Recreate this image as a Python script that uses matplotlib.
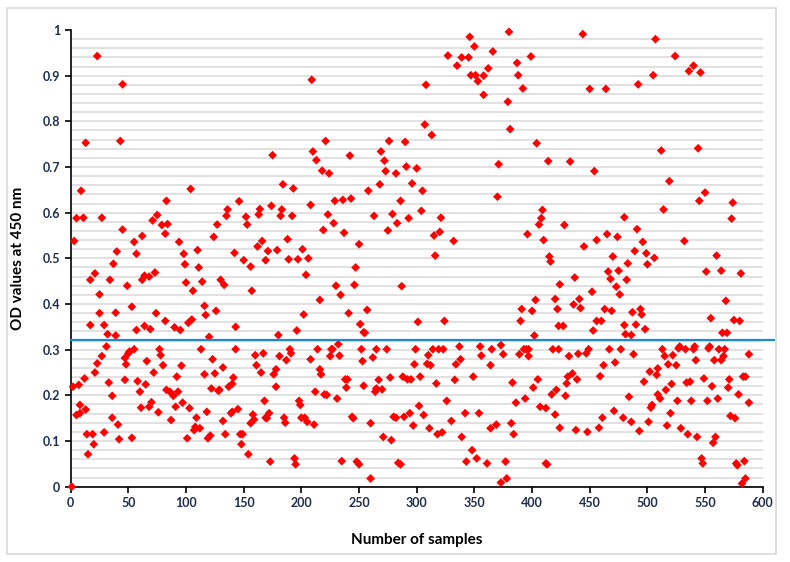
import numpy as np
import matplotlib
matplotlib.use("Agg")
import matplotlib.pyplot as plt
from matplotlib.ticker import MultipleLocator
from matplotlib.patches import Rectangle

# sample number / OD value
sample_no = [
    1, 3, 2, 5, 5, 7, 8, 9, 8, 11, 12, 13, 13, 14, 15, 17, 17, 19, 20, 21, 21, 23, 23, 25, 25, 27, 27, 29, 29, 31,
    32, 33, 34, 36, 36, 37, 39, 39, 40, 41, 42, 43, 45, 45, 47, 47, 48, 49, 50, 51, 53, 53, 55, 55, 57, 57, 58, 60,
    61, 62, 62, 64, 64, 66, 65, 68, 68, 69, 70, 72, 71, 73, 74, 75, 76, 77, 78, 79, 80, 82, 82, 83, 83, 84,
    86, 87, 89, 90, 91, 92, 93, 94, 95, 96, 97, 98, 99, 100, 101, 102, 103, 104, 105, 106, 107, 108, 109, 110, 111,
    112, 113, 114, 116, 116, 117, 118, 119, 120, 121, 122, 123, 124, 125, 126, 127, 128, 129, 130, 132, 132, 133,
    134, 135, 136, 137, 139, 140, 140, 141, 142, 143, 143, 145, 146, 147, 148, 149, 150, 152, 153, 154, 156, 156,
    157, 158, 159, 160, 161, 162, 163, 164, 165, 166, 167, 168, 169, 169,
    170, 172, 171, 173, 174, 175, 176, 178, 178, 179, 180, 181, 182, 183, 184, 185, 186, 187, 188, 189, 190, 191,
    192, 193, 194, 195, 196, 197, 198, 199, 200, 201, 202, 203, 204, 205, 206, 208, 208, 209, 210, 211, 212, 213,
    214, 216, 216, 217, 218, 219, 220, 221, 222, 223, 224, 225, 226, 227, 228, 229, 230, 231, 232, 233, 234, 236,
    237, 238, 239, 240, 235, 242, 241, 243, 244, 245, 246, 247, 248, 250, 250, 251, 252, 254, 254,
    253, 255, 257, 258, 260, 260, 262, 263, 264, 265, 265, 267, 268, 269, 270, 271, 272, 273, 274, 275, 276, 277,
    278, 279, 280, 282, 282, 283, 284, 286, 286, 287, 288, 289, 290, 291, 292, 293, 294, 295, 296, 297, 298, 299,
    300, 301, 302, 303, 304, 305, 306, 307, 308, 309, 310, 311, 312, 313, 314, 315, 316, 317, 318, 319, 320, 321,
    322, 323, 324, 326, 327, 330, 332, 333, 334, 335, 337, 338, 339, 339,
    342, 343, 345, 346, 347, 348, 349, 350, 351, 352, 353, 354, 355, 356, 358, 358, 361, 362, 364, 364, 365, 366,
    369, 370, 371, 373, 373, 375, 377, 378, 379, 380, 381, 382, 383, 384, 386, 387, 388, 389, 390, 391, 392, 393,
    394, 395, 396, 397, 397, 399, 400, 401, 402, 403, 404, 405, 406, 407, 408, 409, 410, 412, 412, 413, 414, 415,
    416, 417, 418, 420, 420, 421, 422, 423, 423, 424, 424,
    427, 428, 429, 430, 431, 432, 433, 435, 436, 437, 438, 439, 440, 441, 442, 444, 445, 447, 448, 449, 450, 452,
    453, 454, 456, 456, 458, 459, 460, 461, 462, 463, 464, 465, 466, 467, 468, 469, 470, 471, 472, 473, 474, 475,
    476, 477, 479, 480, 480, 481, 482, 483, 484, 486, 486, 487, 488, 489, 490, 491, 492, 493, 494, 495, 496, 497,
    498, 499, 500, 501, 502, 503, 504, 505, 506, 507, 508, 509, 509,
    511, 512, 514, 513, 515, 516, 517, 518, 519, 520, 521, 522, 524, 525, 526, 527, 528, 529, 532, 533, 534, 535,
    536, 537, 538, 540, 540, 541, 542, 543, 544, 545, 546, 547, 548, 549, 550, 551, 552, 553, 554, 555, 556, 557,
    558, 559, 560, 561, 562, 564, 564, 565, 566, 567, 568, 569, 570, 571, 572, 573, 574, 575, 576, 577, 578, 579,
    580, 581, 582, 583, 584, 585, 585, 588, 588,
]

od_450 = [
    0.0, 0.538, 0.219, 0.157, 0.588, 0.223, 0.161, 0.648, 0.179, 0.589, 0.237, 0.169, 0.753, 0.115, 0.071, 0.453,
    0.354, 0.115, 0.093, 0.467, 0.250, 0.943, 0.270, 0.421, 0.380, 0.286, 0.589, 0.119, 0.354, 0.307, 0.334, 0.228,
    0.453, 0.199, 0.151, 0.488, 0.331, 0.381, 0.515, 0.136, 0.104, 0.757, 0.563, 0.881, 0.282, 0.234, 0.268, 0.440,
    0.292, 0.296, 0.394, 0.107, 0.301, 0.536, 0.343, 0.510, 0.231, 0.208, 0.173, 0.549, 0.453, 0.462, 0.352, 0.275,
    0.224, 0.175, 0.460, 0.345, 0.185, 0.250, 0.583, 0.469, 0.380, 0.595, 0.163, 0.301, 0.288, 0.573, 0.266, 0.554,
    0.363, 0.212, 0.626, 0.575,
    0.208, 0.146, 0.199, 0.349, 0.175, 0.241, 0.208, 0.536, 0.343, 0.265, 0.184, 0.510, 0.487, 0.447, 0.106, 0.359,
    0.172, 0.652, 0.366, 0.429, 0.124, 0.131, 0.151, 0.518, 0.480, 0.128, 0.301, 0.449, 0.396, 0.246, 0.376, 0.164,
    0.106, 0.328, 0.112, 0.215, 0.279, 0.547, 0.248, 0.385, 0.574, 0.210, 0.212, 0.453, 0.261, 0.144, 0.442, 0.115,
    0.593, 0.607, 0.219, 0.161, 0.225, 0.164, 0.239, 0.512, 0.350, 0.301, 0.170, 0.625, 0.115, 0.093, 0.115, 0.496,
    0.591, 0.574, 0.071, 0.139, 0.482, 0.429, 0.158, 0.147, 0.288, 0.266, 0.526, 0.596, 0.608, 0.250, 0.538, 0.292,
    0.188, 0.151, 0.496,
    0.150, 0.161, 0.516, 0.055, 0.615, 0.726, 0.246, 0.257, 0.219, 0.518, 0.332, 0.286, 0.593, 0.607, 0.662, 0.151,
    0.140, 0.277, 0.542, 0.498, 0.301, 0.292, 0.593, 0.653, 0.062, 0.049, 0.342, 0.498, 0.188, 0.179, 0.151, 0.520,
    0.377, 0.151, 0.464, 0.142, 0.500, 0.617, 0.279, 0.891, 0.734, 0.136, 0.208, 0.715, 0.301, 0.409, 0.257, 0.246,
    0.692, 0.562, 0.202, 0.757, 0.201, 0.596, 0.686, 0.286, 0.301, 0.301, 0.577, 0.626, 0.440, 0.193, 0.312, 0.287,
    0.420, 0.628, 0.556, 0.235, 0.217, 0.235, 0.056, 0.725, 0.380, 0.631, 0.153, 0.150, 0.442, 0.480, 0.055, 0.049,
    0.531, 0.356, 0.301, 0.221, 0.338,
    0.275, 0.337, 0.387, 0.648, 0.018, 0.139, 0.283, 0.593, 0.208, 0.215, 0.301, 0.234, 0.662, 0.734, 0.213, 0.109,
    0.714, 0.691, 0.301, 0.561, 0.757, 0.239, 0.102, 0.597, 0.153, 0.151, 0.686, 0.577, 0.052, 0.049, 0.626, 0.439,
    0.241, 0.153, 0.755, 0.701, 0.235, 0.588, 0.161, 0.235, 0.664, 0.134, 0.268, 0.301, 0.697, 0.361, 0.177, 0.241,
    0.604, 0.648, 0.157, 0.793, 0.880, 0.269, 0.288, 0.128, 0.266, 0.770, 0.301, 0.550, 0.506, 0.226, 0.115, 0.301,
    0.558, 0.589, 0.119, 0.301, 0.363, 0.188, 0.944, 0.144, 0.538, 0.234, 0.268, 0.922, 0.307, 0.279, 0.940, 0.109,
    0.161, 0.055, 0.940, 0.985, 0.901, 0.080, 0.241, 0.964, 0.901, 0.062, 0.888, 0.161, 0.307, 0.287, 0.900, 0.858,
    0.051, 0.916, 0.266, 0.128, 0.301, 0.953, 0.136, 0.635, 0.706, 0.009, 0.310, 0.290, 0.055, 0.018, 0.843, 0.996,
    0.783, 0.139, 0.228, 0.115, 0.184, 0.928, 0.901, 0.290, 0.363, 0.389, 0.872, 0.301, 0.193, 0.301, 0.553, 0.301,
    0.286, 0.942, 0.385, 0.217, 0.331, 0.409, 0.752, 0.235, 0.574, 0.175, 0.588, 0.606, 0.540, 0.172, 0.051, 0.049,
    0.713, 0.504, 0.493, 0.202, 0.301, 0.158, 0.411, 0.212, 0.389, 0.352, 0.301, 0.443, 0.129,
    0.352, 0.573, 0.199, 0.226, 0.241, 0.286, 0.712, 0.248, 0.399, 0.458, 0.124, 0.235, 0.291, 0.411, 0.391, 0.991,
    0.526, 0.292, 0.120, 0.301, 0.871, 0.427, 0.342, 0.691, 0.540, 0.363, 0.129, 0.242, 0.363, 0.151, 0.266, 0.389,
    0.871, 0.553, 0.471, 0.301, 0.455, 0.385, 0.504, 0.166, 0.272, 0.438, 0.547, 0.473, 0.421, 0.301, 0.151, 0.590,
    0.354, 0.334, 0.453, 0.489, 0.197, 0.332, 0.142, 0.382, 0.290, 0.516, 0.355, 0.564, 0.881, 0.122, 0.389, 0.377,
    0.536, 0.230, 0.345, 0.511, 0.487, 0.142, 0.252, 0.173, 0.179, 0.901, 0.501, 0.980, 0.245, 0.259, 0.202,
    0.193, 0.736, 0.607, 0.301, 0.286, 0.212, 0.134, 0.268, 0.669, 0.161, 0.225, 0.288, 0.943, 0.266, 0.188, 0.303,
    0.307, 0.128, 0.538, 0.301, 0.228, 0.115, 0.910, 0.230, 0.188, 0.922, 0.301, 0.307, 0.277, 0.109, 0.741, 0.626,
    0.907, 0.062, 0.051, 0.237, 0.644, 0.471, 0.188, 0.303, 0.307, 0.369, 0.220, 0.096, 0.277, 0.109, 0.506, 0.193,
    0.301, 0.473, 0.277, 0.337, 0.286, 0.301, 0.407, 0.337, 0.217, 0.235, 0.155, 0.587, 0.622, 0.365, 0.150, 0.051,
    0.047, 0.202, 0.363, 0.467, 0.007, 0.241, 0.056, 0.018, 0.241, 0.184, 0.290,
]

threshold = 0.321
line_end = 610

plt.rcParams['font.family'] = ['Lato', 'DejaVu Sans']

fig = plt.figure(figsize=(7.9, 5.62), dpi=100)
fig.patches.append(Rectangle((7 / 790, 8 / 562), 769 / 790, 546 / 562, transform=fig.transFigure,
                             fill=False, edgecolor='#d9d9d9', linewidth=1.2))
ax = fig.add_axes([0.0895, 0.134, 0.876, 0.8126])

ax.scatter(sample_no, od_450, marker='D', s=20, color='#ff0000', edgecolors='none', zorder=3, clip_on=False)
ax.plot([0, line_end], [threshold, threshold], color='#1f8ad2', linewidth=1.6, zorder=4, clip_on=False)

ax.set_xlim(0, 600)
ax.set_ylim(0, 1)
ax.xaxis.set_major_locator(MultipleLocator(50))
ax.yaxis.set_minor_locator(MultipleLocator(0.02))
ax.set_yticks(np.arange(0, 1.01, 0.1))
ax.set_yticklabels(['0', '0.1', '0.2', '0.3', '0.4', '0.5', '0.6', '0.7', '0.8', '0.9', '1'])
ax.grid(which='both', axis='y', color='#d9d9d9', linewidth=1.1)
ax.set_axisbelow(True)
# no grid line along the top edge
ax.yaxis.get_major_ticks()[-1].gridline.set_visible(False)

for s in ['top', 'right']:
    ax.spines[s].set_visible(False)
for s in ['left', 'bottom']:
    ax.spines[s].set_linewidth(1.2)
    ax.spines[s].set_color('black')

ax.tick_params(which='major', direction='out', length=4, width=1.2, color='black',
               labelsize=9, labelcolor='#1f2d4d')
ax.tick_params(which='minor', length=0)
for lab in ax.get_xticklabels() + ax.get_yticklabels():
    lab.set_fontweight('bold')

ax.set_xlabel('Number of samples', fontsize=11, fontweight='bold', labelpad=17)
ax.set_ylabel('OD values at 450 nm', fontsize=11, fontweight='bold', labelpad=13)

fig.savefig('out.png', dpi=100)
